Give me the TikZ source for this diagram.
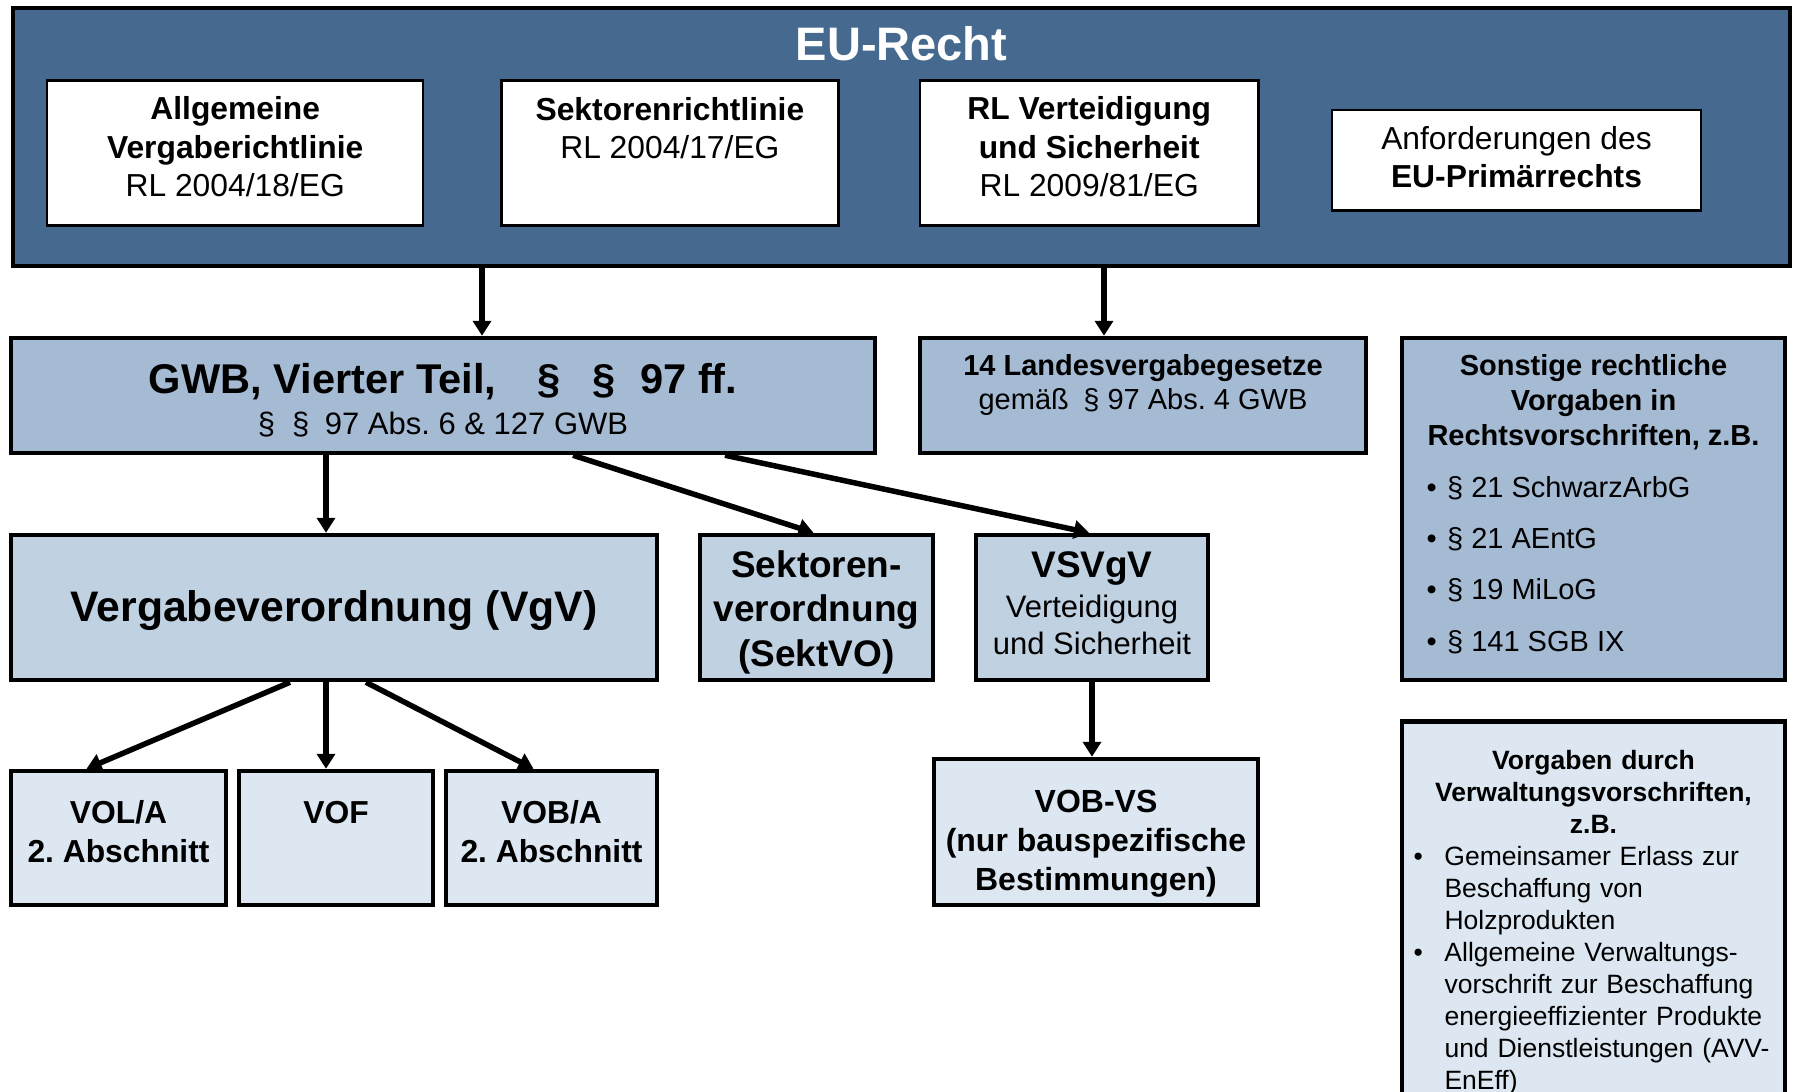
\documentclass[tikz,border=0pt]{standalone}
\usepackage{fontspec}
\setmainfont{Liberation Sans}
\usetikzlibrary{arrows.meta}

\definecolor{eublue}{HTML}{466A8F}
\definecolor{midblue}{HTML}{A5BAD3}
\definecolor{lightblue}{HTML}{C0D1E2}
\definecolor{paleblue}{HTML}{DDE7F1}

\newcommand{\fsz}[2]{\fontsize{#1}{#2}\selectfont}
\newcommand{\sbul}[1]{\makebox[334pt][l]{\makebox[20.6pt][l]{\textbullet}#1}}
\newcommand{\vbul}[1]{\makebox[360pt][l]{\makebox[31pt][l]{\textbullet}#1}}
\newcommand{\vcont}[1]{\makebox[360pt][l]{\hspace*{31pt}#1}}
% struts that move a box text down (top) or up (bottom)
\newcommand{\tgap}[1]{\rule{0pt}{#1pt}}
\newcommand{\bgap}[1]{\rule[-#1pt]{0pt}{0pt}}

\begin{document}
\frenchspacing
\begin{tikzpicture}[
    x=1pt, y=-1pt,
    box/.style={draw=black, line width=4.5pt, align=center, inner sep=0pt},
    wbox/.style={draw=black, line width=2.5pt, fill=white, align=center, inner sep=0pt,
        font=\fsz{31.8}{38.5}},
    arr/.style={line width=5.5pt, -{Triangle[length=15pt,width=18pt]}}
]
\useasboundingbox (0,0) rectangle (1794,1092);

% EU level
\node[box, fill=eublue, minimum width=1777pt, minimum height=258pt] (eu) at (901.5,137) {};
\node[text=white, font=\fsz{47}{56}\bfseries, inner sep=0pt] (eutitle) at (901.5,43.5) {EU-Recht};

\node[wbox, minimum width=376pt, minimum height=145pt] (rlallg) at (235.2,152.8)
    {\textbf{Allgemeine}\\ \textbf{Vergaberichtlinie}\\ RL 2004/18/EG\bgap{12}};
\node[wbox, minimum width=337pt, minimum height=145pt] (rlsekt) at (669.9,152.8)
    {\textbf{Sektorenrichtlinie}\\ RL 2004/17/EG\\ \mbox{}\bgap{11.4}};
\node[wbox, minimum width=338.5pt, minimum height=145pt] (rlvs) at (1089.2,152.8)
    {\textbf{RL Verteidigung}\\ \textbf{und Sicherheit}\\ RL 2009/81/EG\bgap{12}};
\node[wbox, minimum width=369pt, minimum height=100.5pt] (primr) at (1516.5,160.2)
    {Anforderungen des\\ \textbf{EU-Primärrechts}\bgap{6.8}};

% national laws
\node[box, fill=midblue, minimum width=864pt, minimum height=115pt, font=\fsz{31}{38}] (gwb) at (443,395.5)
    {{\fsz{41.6}{48}\bfseries\tgap{40}GWB, Vierter Teil,\hspace{1em}§\hspace{0.75em}§\hspace{0.6em}97 ff.}\\[3.4pt]
     §\hspace{0.55em}§\hspace{0.5em}97 Abs. 6 \& 127 GWB};
\node[box, fill=midblue, minimum width=446pt, minimum height=115pt, font=\fsz{29}{34.3}] (land) at (1143,395.5)
    {\tgap{28}\textbf{14 Landesvergabegesetze}\\ gemäß\hspace{0.5em}§ 97 Abs. 4 GWB\\ \mbox{}};
\node[box, fill=midblue, minimum width=383pt, minimum height=342pt, font=\fsz{29}{34.8}] (sonst) at (1593.5,509)
    {\textbf{Sonstige rechtliche}\\ \textbf{Vorgaben in}\\ \textbf{Rechtsvorschriften, z.B.}\\[17pt]
     \sbul{§ 21 SchwarzArbG}\\[16.5pt] \sbul{§ 21 AEntG}\\[16.5pt] \sbul{§ 19 MiLoG}\\[16.5pt]
     \sbul{§ 141 SGB IX}\bgap{12}};

% ordinances
\node[box, fill=lightblue, minimum width=646pt, minimum height=145pt, font=\fsz{42.7}{51}\bfseries] (vgv) at (334,607.5)
    {\tgap{38}Vergabeverordnung (VgV)};
\node[box, fill=lightblue, minimum width=233pt, minimum height=145pt, font=\fsz{37}{44.6}\bfseries] (sekt) at (816.5,607.5)
    {\tgap{36.2}Sektoren-\\ verordnung\\ (SektVO)};
\node[box, fill=lightblue, minimum width=232pt, minimum height=145pt, font=\fsz{31}{37}] (vsvgv) at (1092,607.5)
    {{\fsz{37}{44}\bfseries VSVgV}\\[3pt] Verteidigung\\ und Sicherheit\bgap{9.2}};

% procurement rules
\node[box, fill=paleblue, minimum width=215pt, minimum height=134pt, font=\fsz{31.8}{39}\bfseries] (vola) at (118.5,838)
    {VOL/A\\ 2. Abschnitt\bgap{13}};
\node[box, fill=paleblue, minimum width=194pt, minimum height=134pt, font=\fsz{31.8}{39}\bfseries] (vof) at (336,838)
    {VOF\\ \mbox{}\bgap{13}};
\node[box, fill=paleblue, minimum width=211pt, minimum height=134pt, font=\fsz{31.8}{39}\bfseries] (voba) at (551.5,838)
    {VOB/A\\ 2. Abschnitt\bgap{13}};
\node[box, fill=paleblue, minimum width=324pt, minimum height=146pt, font=\fsz{32}{39}\bfseries] (vobvs) at (1096,832)
    {\tgap{45.8}VOB-VS\\ (nur bauspezifische\\ Bestimmungen)};

% administrative rules, runs past the lower edge
\node[box, fill=paleblue, anchor=north, text width=363pt, inner xsep=10pt, inner ysep=29pt,
      font=\fsz{26.5}{32}] (verw) at (1593.5,719)
    {\textbf{Vorgaben durch}\\ \textbf{Verwaltungsvorschriften,}\\ \textbf{z.B.}\\
     \vbul{Gemeinsamer Erlass zur}\\ \vcont{Beschaffung von}\\ \vcont{Holzprodukten}\\
     \vbul{Allgemeine Verwaltungs-}\\ \vcont{vorschrift zur Beschaffung}\\
     \vcont{energieeffizienter Produkte}\\ \vcont{und Dienstleistungen (AVV-}\\ \vcont{EnEff)}};

% connectors
\draw[arr] ([xshift=39pt]gwb.north |- eu.south) -- ([xshift=39pt]gwb.north);
\draw[arr] ([xshift=-39pt]land.north |- eu.south) -- ([xshift=-39pt]land.north);
\draw[arr] ([xshift=-8pt]vgv.north |- gwb.south) -- ([xshift=-8pt]vgv.north);
\draw[arr] ([xshift=130pt]gwb.south) -- ([xshift=-3pt]sekt.north);
\draw[arr] ([xshift=282pt]gwb.south) -- ([xshift=-3pt]vsvgv.north);
\draw[arr] ([xshift=-44pt]vgv.south) -- ([xshift=-32pt]vola.north);
\draw[arr] ([xshift=-10pt]vof.north |- vgv.south) -- ([xshift=-10pt]vof.north);
\draw[arr] ([xshift=32pt]vgv.south) -- ([xshift=-18pt]voba.north);
\draw[arr] (vsvgv.south) -- (vsvgv.south |- vobvs.north);

\end{tikzpicture}
\end{document}
